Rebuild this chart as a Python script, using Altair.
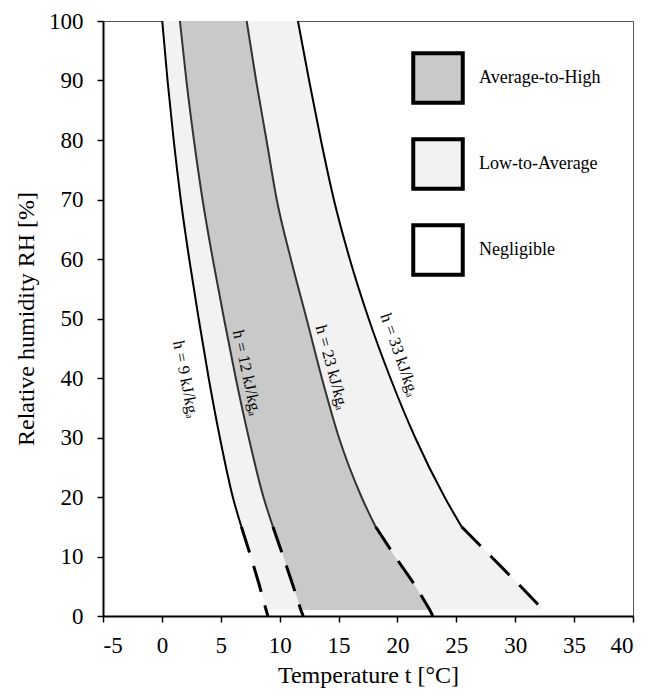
import altair as alt
import pandas as pd

# ---- data ----
rh = [100, 90, 80, 70, 60, 50, 40, 30, 20, 15, 10, 5, 1, 0]
t_h9 = [0.03, 0.48, 1.00, 1.60, 2.32, 3.12, 3.97, 4.92, 6.02, 6.75, 7.55, 8.30, 8.85, 9.00]
t_h12 = [1.53, 2.08, 2.72, 3.45, 4.32, 5.27, 6.27, 7.37, 8.62, 9.43, 10.30, 11.15, 11.80, 12.00]
t_h23 = [7.20, 8.00, 8.88, 9.75, 10.95, 12.28, 13.58, 15.03, 16.95, 18.15, 19.80, 21.55, 22.75, 23.00]
t_h33 = [11.55, 12.50, 13.50, 14.60, 15.95, 17.55, 19.40, 21.50, 24.00, 25.45, 27.95, 30.45, 32.40, None]

curve_names = ["h9", "h12", "h23", "h33"]
curve_values = [t_h9, t_h12, t_h23, t_h33]
curve_colors = ["#000000", "#333333", "#333333", "#000000"]
dash_below = 15  # RH [%] below which the lines are dashed

band_pairs = [(0, 1), (1, 2), (2, 3)]
band_cats = ["Low-to-Average", "Average-to-High", "Low-to-Average"]
fill_min_rh = 1

categories = ["Average-to-High", "Low-to-Average", "Negligible"]
cat_colors = ["#c9c9c9", "#f2f2f2", "#ffffff"]

label_texts = ["h = 9 kJ/kg\u2090", "h = 12 kJ/kg\u2090", "h = 23 kJ/kg\u2090", "h = 33 kJ/kg\u2090"]
label_t = [2.0, 7.2, 14.4, 20.15]
label_rh = [39.8, 40.9, 41.8, 43.9]
label_angle = [79, 78, 75, 71]

x_ticks = list(range(-5, 41, 5))
y_ticks = list(range(0, 101, 10))

FONT = "Liberation Serif"

# ---- tables ----
line_rows = []
for name, vals in zip(curve_names, curve_values):
    for i, (r, t) in enumerate(zip(rh, vals)):
        if t is None:
            continue
        if r >= dash_below:
            line_rows.append(dict(curve=name, seg="solid", rh=r, t=t, i=i))
        if r <= dash_below:
            line_rows.append(dict(curve=name, seg="dashed", rh=r, t=t, i=i))
lines_df = pd.DataFrame(line_rows)

area_rows = []
for b, ((a, c), cat) in enumerate(zip(band_pairs, band_cats)):
    for i, r in enumerate(rh):
        if r < fill_min_rh:
            continue
        area_rows.append(dict(band=f"b{b}", cat=cat, rh=r,
                              left=curve_values[a][i], right=curve_values[c][i]))
area_df = pd.DataFrame(area_rows)

labels_df = pd.DataFrame(dict(text=label_texts, t=label_t, rh=label_rh, angle=label_angle))

xscale = alt.Scale(domain=[-5, 40], nice=False, zero=False)
yscale = alt.Scale(domain=[0, 100], nice=False)

xaxis = alt.Axis(values=x_ticks, title="Temperature t [°C]", labelExpr="'' + datum.value",
                 labelPadding=12, titlePadding=6)
yaxis = alt.Axis(values=y_ticks, title="Relative humidity RH [%]", labelPadding=14,
                 titlePadding=10)

areas = alt.Chart(area_df).mark_area(orient="horizontal", interpolate="monotone").encode(
    y=alt.Y("rh:Q", scale=yscale, axis=yaxis),
    x=alt.X("left:Q", scale=xscale, axis=xaxis),
    x2="right:Q",
    color=alt.Color("cat:N", scale=alt.Scale(domain=categories, range=cat_colors),
                    legend=alt.Legend(orient="none", legendX=308, legendY=30, title=None,
                                      symbolType="square", symbolSize=2450,
                                      symbolStrokeColor="black", symbolStrokeWidth=4,
                                      symbolOpacity=1, labelFont=FONT, labelFontSize=18,
                                      labelColor="black", labelOffset=14, rowPadding=20,
                                      padding=0)),
    detail="band:N",
)

solid = alt.Chart(lines_df).transform_filter(alt.datum.seg == "solid").mark_line(
    strokeWidth=2, interpolate="monotone").encode(
    x=alt.X("t:Q", scale=xscale),
    y=alt.Y("rh:Q", scale=yscale),
    detail="curve:N",
    stroke=alt.Stroke("curve:N", scale=alt.Scale(domain=curve_names, range=curve_colors),
                      legend=None),
    order="i:Q",
)

dashed = alt.Chart(lines_df).transform_filter(alt.datum.seg == "dashed").mark_line(
    strokeWidth=3, strokeDash=[27, 14], color="black").encode(
    x=alt.X("t:Q", scale=xscale),
    y=alt.Y("rh:Q", scale=yscale),
    detail="curve:N",
    order="i:Q",
)

labels = alt.Chart(labels_df).mark_text(font=FONT, fontSize=16.5, color="black",
                                        align="center", baseline="middle").encode(
    x=alt.X("t:Q", scale=xscale),
    y=alt.Y("rh:Q", scale=yscale),
    text="text:N",
    angle=alt.Angle("angle:Q", scale=None),
)

chart = alt.layer(areas, solid, dashed, labels).properties(
    width=530, height=595, autosize="none",
    padding={"left": 95, "top": 13, "right": 7, "bottom": 74},
).configure_view(stroke="#555555", strokeWidth=1).configure_axis(
    grid=False, domainColor="black", domainWidth=2, tickColor="black", tickWidth=1.5,
    tickSize=6, labelFont=FONT, labelFontSize=23, labelColor="black",
    titleFont=FONT, titleFontSize=24, titleFontWeight="normal", titleColor="black",
)

chart.save("out.html", embed_options={"renderer": "svg", "actions": False})
